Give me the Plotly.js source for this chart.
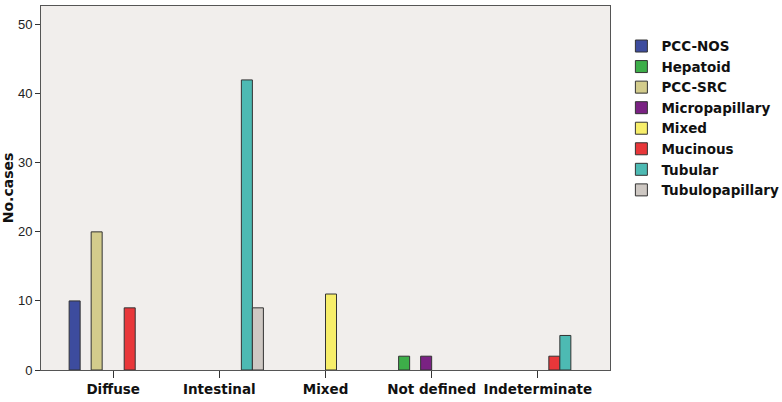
<!DOCTYPE html>
<html>
<head>
<meta charset="utf-8">
<script src="https://cdn.plot.ly/plotly-3.0.1.min.js"></script>
<style>
  html, body { margin: 0; padding: 0; background: #ffffff; }
  #chart { width: 782px; height: 402px; }
</style>
</head>
<body>
<div id="chart"></div>
<script>
// categories on the x axis
const categories = ["Diffuse", "Intestinal", "Mixed", "Not defined", "Indeterminate"];

// number of cases per histological type (null = no bar)
const pccNos          = [10, null, null, null, null];
const hepatoid        = [null, null, null, 2, null];
const pccSrc          = [20, null, null, null, null];
const micropapillary  = [null, null, null, 2, null];
const mixed           = [null, null, 11, null, null];
const mucinous        = [9, null, null, null, 2];
const tubular         = [null, 42, null, null, 5];
const tubulopapillary = [null, 9, null, null, null];

const yTicks = [0, 10, 20, 30, 40, 50];

const series = [
    { name: "PCC-NOS", values: pccNos, color: "#3D4C9E" },
    { name: "Hepatoid", values: hepatoid, color: "#3DAE49" },
    { name: "PCC-SRC", values: pccSrc, color: "#D3CC8C" },
    { name: "Micropapillary", values: micropapillary, color: "#7A2283" },
    { name: "Mixed", values: mixed, color: "#F7EE6A" },
    { name: "Mucinous", values: mucinous, color: "#E8373A" },
    { name: "Tubular", values: tubular, color: "#4DBAB3" },
    { name: "Tubulopapillary", values: tubulopapillary, color: "#CEC8C3" }
];

function makeTrace(s) {
    return {
        type: "bar",
        name: s.name,
        x: categories,
        y: s.values,
        marker: { color: s.color, line: { color: "#333333", width: 1 } },
        hoverinfo: "x+y+name"
    };
}

let traces = series.map(makeTrace);

let boldFont = "DejaVu Sans, Verdana, sans-serif";

let layout = {
    width: 782,
    height: 402,
    margin: { l: 41, r: 172, t: 6, b: 32, autoexpand: false },
    paper_bgcolor: "#ffffff",
    plot_bgcolor: "#F1EEEC",
    barmode: "group",
    bargap: 0.17,
    bargroupgap: 0,
    font: { family: "Liberation Sans, Arial, sans-serif", color: "#111111" },
    xaxis: {
        type: "category",
        range: [-0.68, 4.68],
        showgrid: false,
        zeroline: false,
        showline: true,
        linecolor: "#555555",
        linewidth: 1,
        mirror: true,
        ticks: "outside",
        ticklen: 7,
        tickcolor: "#333333",
        tickfont: { size: 13.5, family: boldFont, weight: "bold", color: "#111111" }
    },
    yaxis: {
        range: [0, 52.7],
        tickvals: yTicks,
        showgrid: false,
        zeroline: false,
        showline: true,
        linecolor: "#555555",
        linewidth: 1,
        mirror: true,
        ticks: "outside",
        ticklen: 5,
        tickcolor: "#333333",
        tickfont: { size: 13, color: "#222222" },
        title: {
            text: "No.cases",
            standoff: 4,
            font: { size: 14, family: boldFont, weight: "bold", color: "#111111" }
        }
    },
    showlegend: true,
    legend: {
        x: 1.02,
        xanchor: "left",
        y: 0.932,
        yanchor: "top",
        bgcolor: "rgba(0,0,0,0)",
        font: { size: 13.5, family: boldFont, weight: "bold", color: "#111111" },
        traceorder: "normal",
        itemwidth: 30
    }
};

Plotly.newPlot("chart", traces, layout, { displayModeBar: false, staticPlot: true });
</script>
</body>
</html>
